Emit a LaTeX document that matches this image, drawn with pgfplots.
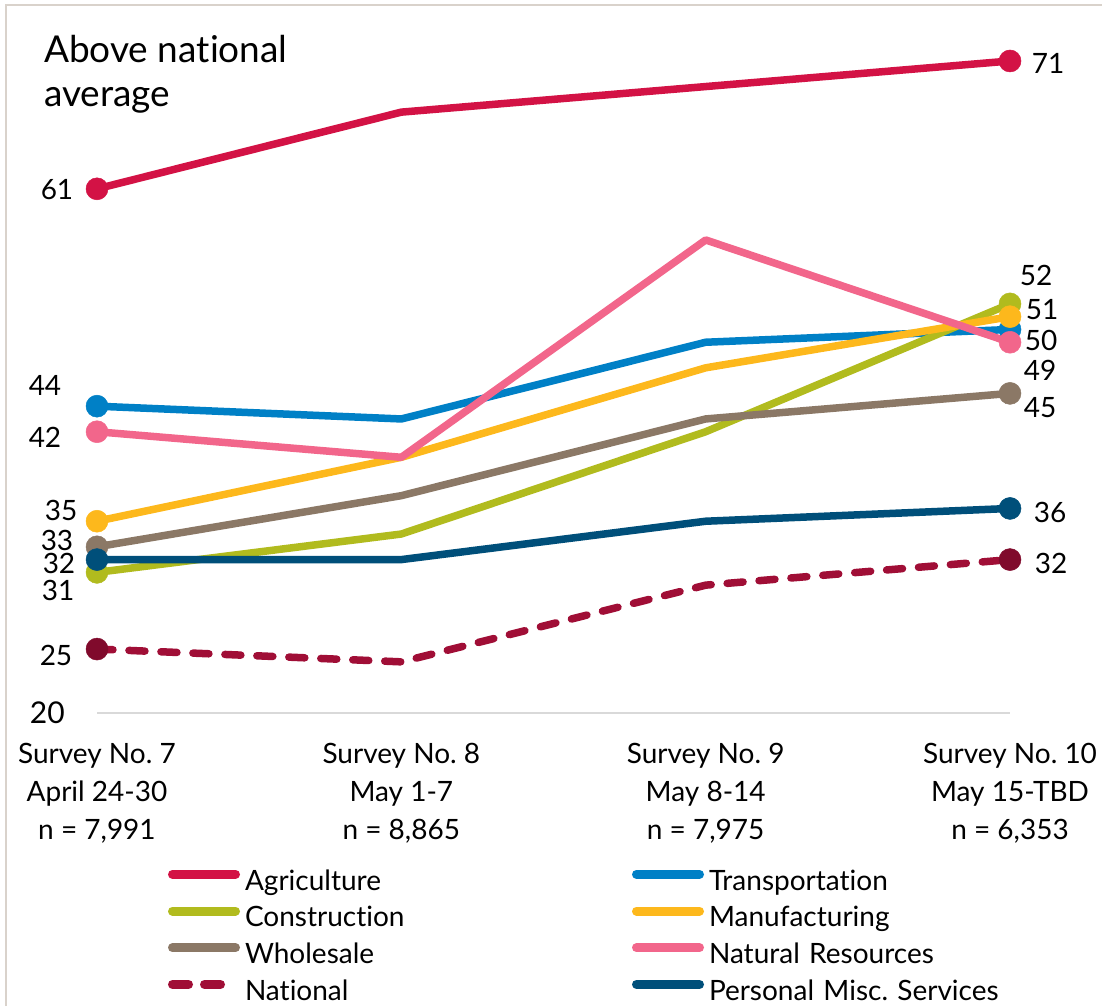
\documentclass[border=0pt]{standalone}
\usepackage{pgfplots}
\pgfplotsset{compat=1.18}
\usepackage{fontspec}
\setmainfont{Lato}[Ligatures={NoCommon,NoRare}]
\frenchspacing
\definecolor{agri}{HTML}{D31245}
\definecolor{trans}{HTML}{0080C6}
\definecolor{cons}{HTML}{B1BB1E}
\definecolor{manu}{HTML}{FDB81C}
\definecolor{whol}{HTML}{8B7866}
\definecolor{natr}{HTML}{F2668B}
\definecolor{natl}{HTML}{A00E36}
\definecolor{natlm}{HTML}{800A2C}
\definecolor{pers}{HTML}{004F7A}
\definecolor{framec}{HTML}{D9D2CB}
\definecolor{axisg}{HTML}{D9D9D9}
\newcommand\lab{\fontsize{28}{34}\selectfont}
\begin{document}
\begin{tikzpicture}[x=1pt,y=1pt]
\useasboundingbox (0,0) rectangle (1102,1006);
\draw[framec, line width=2pt] (6,0) -- (6,1001) -- (1102,1001);
\node[anchor=base west, inner sep=0pt, font=\fontsize{37}{44}\selectfont] at (44,943) {Above national};
\node[anchor=base west, inner sep=0pt, font=\fontsize{37}{44}\selectfont] at (44,899) {average};
\begin{axis}[
  at={(97pt,293pt)}, anchor=south west,
  scale only axis, width=913pt, height=652pt,
  xmin=0, xmax=3, ymin=20, ymax=71,
  clip=false,
  axis x line*=bottom, axis y line*=left,
  x axis line style={draw=axisg, line width=2pt},
  y axis line style={draw=none},
  xtick={0,1,2,3},
  xticklabels={{Survey No. 7\\April 24-30\\n = 7,991},{Survey No. 8\\May 1-7\\n = 8,865},{Survey No. 9\\May 8-14\\n = 7,975},{Survey No. 10\\May 15-TBD\\n = 6,353}},
  xticklabel style={align=center, font=\fontsize{28}{38}\selectfont, inner sep=0pt, anchor=north, yshift=-30pt},
  ytick={20}, yticklabels={20},
  yticklabel style={font=\fontsize{30}{36}\selectfont, inner sep=0pt, anchor=east, xshift=-32pt},
  major tick length=0pt,
  tick style={draw=none},
  every axis plot/.append style={line width=7.5pt, line join=round, mark=*, mark size=11pt, mark indices={1,4}},
  legend columns=2,
  legend cell align=left,
  legend image code/.code={\draw[#1, line width=9pt, line cap=round] (4.5pt,10pt) -- (67.5pt,10pt);},
  legend style={at={(0,0)}, anchor=north west, xshift=71pt, yshift=-153pt, draw=none, fill=none, inner sep=0pt, outer sep=0pt,
    font=\lab, row sep=0pt,
    nodes={inner sep=0pt, text height=24pt, text depth=12.7pt, text width=387pt, align=left},
    /tikz/every odd column/.append style={column sep=5pt},
    /tikz/every even column/.append style={column sep=0pt}},
]
\addplot[agri, mark options={solid, line width=0.5pt}] coordinates {(0,61) (1,67) (2,69) (3,71)};
\addlegendentry{Agriculture}
\addplot[trans, mark options={solid, line width=0.5pt}] coordinates {(0,44) (1,43) (2,49) (3,50)};
\addlegendentry{Transportation}
\addplot[cons, mark options={solid, line width=0.5pt}] coordinates {(0,31) (1,34) (2,42) (3,52)};
\addlegendentry{Construction}
\addplot[manu, mark options={solid, line width=0.5pt}] coordinates {(0,35) (1,40) (2,47) (3,51)};
\addlegendentry{Manufacturing}
\addplot[whol, mark options={solid, line width=0.5pt}] coordinates {(0,33) (1,37) (2,43) (3,45)};
\addlegendentry{Wholesale}
\addplot[natr, mark options={solid, line width=0.5pt}] coordinates {(0,42) (1,40) (2,57) (3,49)};
\addlegendentry{Natural Resources}
\addplot[natl, line cap=round, dash pattern=on 16pt off 16pt, mark options={solid, line width=0.5pt, fill=natlm, draw=natlm}] coordinates {(0,25) (1,24) (2,30) (3,32)};
\addlegendentry{National}
\addplot[pers, mark options={solid, line width=0.5pt}] coordinates {(0,32) (1,32) (2,35) (3,36)};
\addlegendentry{Personal Misc. Services}
% data labels (left)
\node[font=\lab, inner sep=0pt] at (axis cs:0,20) [xshift=-40pt, yshift=523pt] {61};
\node[font=\lab, inner sep=0pt] at (axis cs:0,20) [xshift=-52pt, yshift=328pt] {44};
\node[font=\lab, inner sep=0pt] at (axis cs:0,20) [xshift=-52pt, yshift=276pt] {42};
\node[font=\lab, inner sep=0pt] at (axis cs:0,20) [xshift=-36pt, yshift=203pt] {35};
\node[font=\lab, inner sep=0pt] at (axis cs:0,20) [xshift=-40pt, yshift=173pt] {33};
\node[font=\lab, inner sep=0pt] at (axis cs:0,20) [xshift=-38pt, yshift=150pt] {32};
\node[font=\lab, inner sep=0pt] at (axis cs:0,20) [xshift=-39pt, yshift=123pt] {31};
\node[font=\lab, inner sep=0pt] at (axis cs:0,20) [xshift=-41pt, yshift=58pt] {25};
% data labels (right)
\node[font=\lab, inner sep=0pt] at (axis cs:3,20) [xshift=38pt, yshift=650pt] {71};
\node[font=\lab, inner sep=0pt] at (axis cs:3,20) [xshift=26pt, yshift=438pt] {52};
\node[font=\lab, inner sep=0pt] at (axis cs:3,20) [xshift=32pt, yshift=403pt] {51};
\node[font=\lab, inner sep=0pt] at (axis cs:3,20) [xshift=31pt, yshift=373pt] {50};
\node[font=\lab, inner sep=0pt] at (axis cs:3,20) [xshift=30pt, yshift=343pt] {49};
\node[font=\lab, inner sep=0pt] at (axis cs:3,20) [xshift=30pt, yshift=305pt] {45};
\node[font=\lab, inner sep=0pt] at (axis cs:3,20) [xshift=40pt, yshift=201pt] {36};
\node[font=\lab, inner sep=0pt] at (axis cs:3,20) [xshift=41pt, yshift=150pt] {32};
\end{axis}
\end{tikzpicture}
\end{document}
